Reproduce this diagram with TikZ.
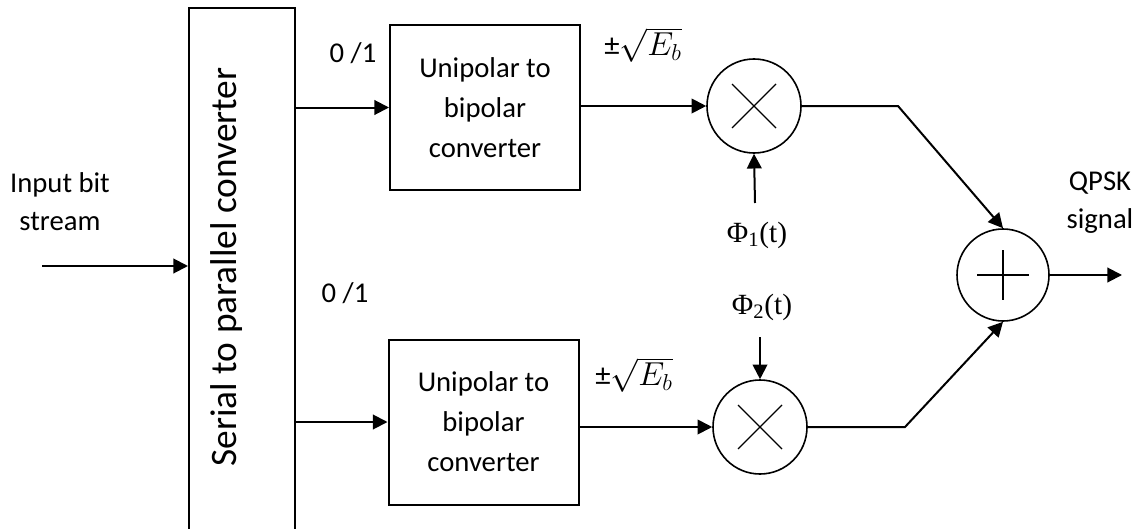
\documentclass[tikz,border=0pt]{standalone}
\usepackage{fontspec}
\setmainfont{Carlito}
\newfontfamily\timesfont{Liberation Serif}
\usetikzlibrary{positioning,arrows.meta}

\tikzset{
  >={Triangle[length=11pt,width=11pt]},
  block/.style={draw, minimum width=142.5pt, minimum height=123.75pt,
    align=center, font=\fontsize{21.5}{30}\selectfont},
  mixer/.style={draw, circle, line width=1.2pt, minimum size=70.5pt},
  lbl/.style={font=\fontsize{21.5}{28.5}\selectfont, align=center},
  amp/.style={inner sep=1pt, font=\fontsize{23}{26}\selectfont},
  phi/.style={font=\timesfont\fontsize{22}{24}\selectfont},
}

\begin{document}
\begin{tikzpicture}[x=0.75pt, y=-0.75pt, line width=1.5pt]
\useasboundingbox (0,0) rectangle (1144,528);

% serial to parallel stage
\node[draw, minimum width=79.5pt, minimum height=399pt] (sp) at (242,274) {};
\node[rotate=90, font=\fontsize{28}{34}\selectfont] (sptext) at (227,267) {Serial to parallel converter};
\node[lbl] (bits) at (60,202) {Input bit\\stream};
\coordinate (in) at (42,266);
\draw[->] (in) -- (in -| sp.west);

% level shifters
\node[block] (ub) at (485,107.5) {Unipolar to\\bipolar\\converter};
\node[block] (lb) at (483.5,422) {Unipolar to\\bipolar\\converter};
\draw[->] (ub.west -| sp.east) -- (ub.west);
\draw[->] (lb.west -| sp.east) -- (lb.west);
\node[lbl] (bit1) at (353,53) {0 /1};
\node[lbl] (bit2) at (345,293) {0 /1};

% product modulators
\node[mixer] (m1) at (754,106) {};
\node[mixer] (m2) at (760,427) {};
\foreach \m in {m1,m2}
  \draw[line width=1pt] (\m.center) +(-22,-22) -- +(22,22) +(-22,22) -- +(22,-22);
\draw[->] (m1.west -| ub.east) -- (m1.west);
\draw[->] (m2.west -| lb.east) -- (m2.west);
\node[amp] (amp1) at (643,45) {±$\sqrt{E_b}$};
\node[amp] (amp2) at (634,375) {±$\sqrt{E_b}$};

% carriers
\node[phi] (phi1) at (757,235) {Φ\textsubscript{1}(t)};
\node[phi] (phi2) at (762,307) {Φ\textsubscript{2}(t)};
\coordinate (c1) at (755,203);
\coordinate (c2) at (760,337);
\draw[->] (c1) -- (m1.south);
\draw[->] (c2) -- (m2.north);

% adder and output
\node[mixer, minimum size=69pt] (ad) at (1003,275) {};
\draw[line width=1pt] (ad.center) +(-26,0) -- +(26,0) +(0,-25) -- +(0,25);
\coordinate (k1) at (898,106);
\coordinate (k2) at (905,427);
\draw[->] (m1.east) -- (k1) -- (ad.north);
\draw[->] (m2.east) -- (k2) -- (ad.south);
\coordinate (out) at (1122,275);
\draw[->] (ad.east) -- (out);
\node[lbl] (qpsk) at (1100,203) {QPSK\\signal};
\end{tikzpicture}
\end{document}
